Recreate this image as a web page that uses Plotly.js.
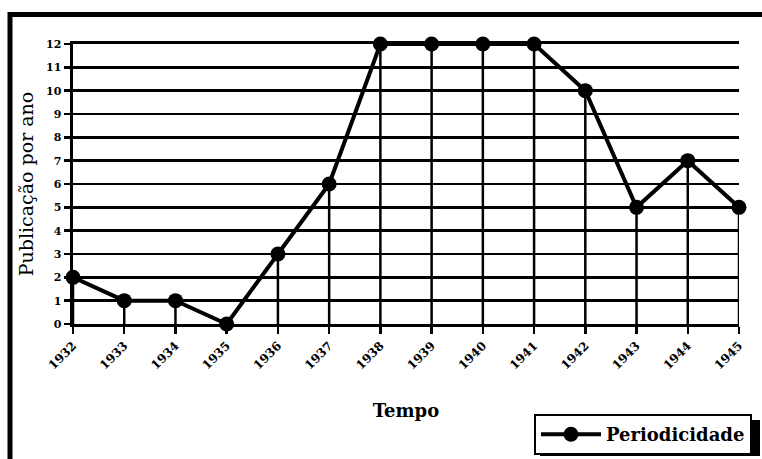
<!DOCTYPE html>
<html>
<head>
<meta charset="utf-8">
<script src="https://cdn.plot.ly/plotly-3.0.1.min.js"></script>
<style>html,body{margin:0;padding:0;background:#fff;}#chart{width:762px;height:459px;}</style>
</head>
<body>
<div id="chart"></div>
<script>
const years = [1932,1933,1934,1935,1936,1937,1938,1939,1940,1941,1942,1943,1944,1945];
const publicacoes = [2,1,1,0,3,6,12,12,12,12,10,5,7,5];
const yTicks = [0,1,2,3,4,5,6,7,8,9,10,11,12];
const seriesName = 'Periodicidade';
const xTitle = 'Tempo';
const yTitle = 'Publicação por ano';

const W = 762, H = 459;
const L = 73, R = 739, T = 44, B = 324;
const px = x => (x - L) / (R - L);
const py = y => (B - y) / (B - T);

const trace = {
  x: years,
  y: publicacoes,
  name: seriesName,
  type: 'scatter',
  mode: 'lines+markers',
  line: {color: '#000', width: 4},
  marker: {color: '#000', size: 15},
  cliponaxis: false,
  error_y: {
    type: 'data',
    symmetric: false,
    array: publicacoes.map(() => 0),
    arrayminus: publicacoes,
    color: '#000',
    thickness: 2.5,
    width: 0
  }
};

const layout = {
  width: W, height: H,
  margin: {l: L, r: W - R, t: T, b: H - B, pad: 0, autoexpand: false},
  paper_bgcolor: '#fff',
  plot_bgcolor: '#fff',
  showlegend: true,
  font: {family: 'DejaVu Serif', color: '#000'},
  xaxis: {
    range: [years[0], years[years.length - 1]],
    tickvals: years,
    ticktext: years.map(String),
    tickangle: -45,
    ticks: 'outside', ticklen: 7, tickwidth: 2.5, tickcolor: '#000',
    tickfont: {family: 'DejaVu Serif', size: 12, color: '#000', weight: 'bold'},
    showgrid: false,
    zeroline: false,
    showline: true, linecolor: '#000', linewidth: 3, mirror: true,
    automargin: false,
    title: {text: xTitle, font: {family: 'DejaVu Serif', size: 18, weight: 'bold'}, standoff: 34}
  },
  yaxis: {
    range: [0, 12],
    tickvals: yTicks,
    ticks: 'outside', ticklen: 6, tickwidth: 2.5, tickcolor: '#000',
    tickfont: {family: 'DejaVu Serif', size: 11, color: '#000', weight: 'bold'},
    showgrid: true, gridcolor: '#000', gridwidth: 2.5,
    zeroline: false,
    showline: true, linecolor: '#000', linewidth: 3.5,
    automargin: false,
    title: {text: yTitle, font: {family: 'DejaVu Serif', size: 19}, standoff: 8}
  },
  legend: {
    x: px(534), y: py(414), xanchor: 'left', yanchor: 'top',
    bgcolor: '#fff', bordercolor: '#000', borderwidth: 2,
    font: {family: 'DejaVu Serif', size: 18, color: '#000', weight: 'bold'},
    itemwidth: 60
  },
  shapes: [
    {type: 'rect', xref: 'paper', yref: 'paper', layer: 'below',
     x0: px(10), x1: px(767), y0: py(14.5), y1: py(470),
     line: {color: '#000', width: 5}},
    {type: 'rect', xref: 'paper', yref: 'paper', layer: 'above',
     x0: px(540), x1: px(760), y0: py(420), y1: py(456),
     fillcolor: '#000', line: {width: 0}}
  ]
};

Plotly.newPlot('chart', [trace], layout, {displayModeBar: false, staticPlot: true});
</script>
</body>
</html>
